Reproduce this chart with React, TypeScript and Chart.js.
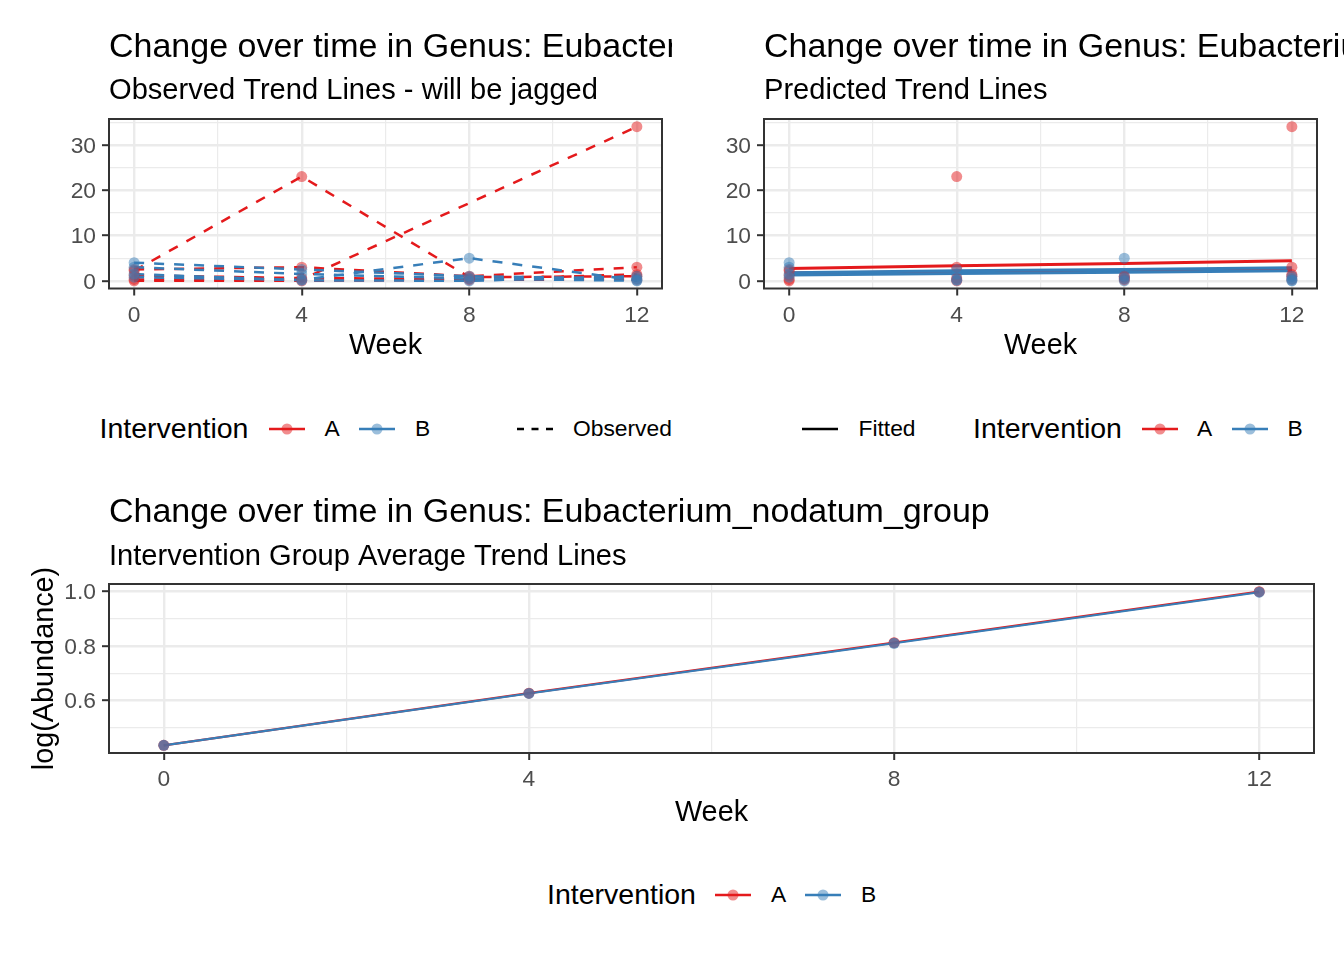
import React, { useEffect, useRef } from 'react';
import { Chart, registerables } from 'chart.js';

Chart.register(...registerables);

const FONT = "'Liberation Sans', Arial, Helvetica, sans-serif";
const RED = 'rgb(228,26,28)';
const RED_PT = 'rgba(228,26,28,0.5)';
const BLUE = 'rgb(55,126,184)';
const BLUE_PT = 'rgba(55,126,184,0.5)';
const RED_PT_MEAN = 'rgba(228,26,28,0.75)';
const BLUE_PT_MEAN = 'rgba(55,126,184,0.7)';

// ---- axes / ticks ----
const weeks = [0, 4, 8, 12];
const xTickLabels = [0, 4, 8, 12];
const xGridValues = [0, 2, 4, 6, 8, 10, 12];
const yTickLabelsTop = [0, 10, 20, 30];
const yGridTop = [0, 5, 10, 15, 20, 25, 30, 35];
const yTickLabelsBottom = [0.6, 0.8, 1.0];
const yGridBottom = [0.5, 0.6, 0.7, 0.8, 0.9, 1.0];

// ---- observed abundance per subject (weeks 0, 4, 8, 12) ----
const subjA1 = [2.2, 23.0, 0.8, 1.0];
const subjA2 = [0.3, 0.3, null, 34.0];
const subjA3 = [2.5, 3.0, 1.0, 3.0];
const subjA4 = [1.2, 0.6, 0.4, 1.4];
const subjA5 = [0.0, 0.0, 0.2, 0.3];
const subjB1 = [0.8, 0.2, 5.0, 0.1];
const subjB2 = [4.0, 2.5, 1.0, 0.5];
const subjB3 = [3.0, 1.5, 0.5, 0.0];
const subjB4 = [1.5, 0.1, 0.0, 1.0];

// ---- fitted trend lines ----
const fitA1 = [2.7, 3.3, 3.8, 4.4];
const fitA2 = [1.7, 2.0, 2.2, 2.5];
const fitB1 = [1.8, 2.2, 2.5, 2.9];
const fitB2 = [1.3, 1.6, 1.9, 2.2];

// ---- group average trend (log abundance) ----
const meanA = [0.437, 0.627, 0.811, 0.997];
const meanB = [0.437, 0.626, 0.809, 0.995];

const groupA = [subjA1, subjA2, subjA3, subjA4, subjA5];
const groupB = [subjB1, subjB2, subjB3, subjB4];

const TITLE = 'Change over time in Genus: Eubacterium_nodatum_group';

const toXY = (vals: (number | null)[]) => weeks.map((w, i) => ({ x: w, y: vals[i] }));

const ggPanel = {
  id: 'ggPanel',
  afterDraw(chart: any, _args: any, opts: any) {
    const { ctx, chartArea: a } = chart;
    ctx.save();
    ctx.strokeStyle = '#333333';
    ctx.lineWidth = 2;
    ctx.strokeRect(a.left, a.top, a.right - a.left, a.bottom - a.top);
    ctx.fillStyle = '#000000';
    ctx.textAlign = 'left';
    ctx.textBaseline = 'alphabetic';
    ctx.font = `34px ${FONT}`;
    ctx.fillText(opts.title, a.left, opts.titleY);
    ctx.font = `29.1px ${FONT}`;
    ctx.fillText(opts.subtitle, a.left, opts.subtitleY);
    ctx.restore();
  },
};

interface Geo {
  W: number; H: number; left: number; right: number; top: number; bottom: number;
  weekY: number; titleY: number; subtitleY: number;
}

function buildOptions(g: Geo, yMin: number, yMax: number, yGrid: number[], yMajor: number[],
  yFmt: (v: number) => string, yTitle: string | null, title: string, subtitle: string) {
  const tickFont = { family: FONT, size: 22.8, lineHeight: 1 };
  const titleFont = { family: FONT, size: 28.8, lineHeight: 1 };
  const grid = (major: number[]) => ({
    color: '#EBEBEB',
    lineWidth: (c: any) => (major.includes(c.tick && c.tick.value) ? 2.4 : 1.2),
    tickColor: (c: any) => (major.includes(c.tick && c.tick.value) ? '#333333' : 'rgba(0,0,0,0)'),
    tickLength: 7,
    tickWidth: 2,
    drawTicks: true,
  });
  return {
    animation: false,
    responsive: false,
    events: [],
    layout: { padding: { left: 0, top: g.top, right: g.W - g.right, bottom: 0 } },
    scales: {
      x: {
        type: 'linear', min: -0.6, max: 12.6, bounds: 'data',
        afterBuildTicks: (s: any) => { s.ticks = xGridValues.map((v) => ({ value: v })); },
        afterFit: (s: any) => { s.height = g.H - g.bottom; },
        grid: grid(xTickLabels),
        border: { display: false },
        ticks: {
          autoSkip: false, maxRotation: 0, minRotation: 0, color: '#4D4D4D', font: tickFont, padding: 8.6,
          callback: (v: number) => (xTickLabels.includes(v) ? String(v) : ''),
        },
        title: {
          display: true, text: 'Week', color: '#000000', font: titleFont,
          padding: { top: 0, bottom: g.H - g.weekY - 14.4 },
        },
      },
      y: {
        type: 'linear', min: yMin, max: yMax, bounds: 'data',
        afterBuildTicks: (s: any) => { s.ticks = yGrid.map((v) => ({ value: v })); },
        afterFit: (s: any) => { s.width = g.left; },
        grid: grid(yMajor),
        border: { display: false },
        ticks: {
          autoSkip: false, color: '#4D4D4D', font: tickFont, padding: 6, labelOffset: 1.5,
          callback: (v: number) => (yMajor.includes(v) ? yFmt(v) : ''),
        },
        title: yTitle
          ? { display: true, text: yTitle, color: '#000000', font: titleFont, padding: { top: 30.6, bottom: 0 } }
          : { display: false },
      },
    },
    plugins: {
      legend: { display: false },
      tooltip: { enabled: false },
      ggPanel: { title, subtitle, titleY: g.titleY, subtitleY: g.subtitleY },
    },
  };
}

const pointSet = (vals: (number | null)[], color: string) => ({
  data: toXY(vals), showLine: false, pointRadius: 5.5, pointBackgroundColor: color,
  pointBorderWidth: 0, borderColor: color, backgroundColor: color,
});

const geoTL: Geo = { W: 672, H: 380, left: 109, right: 662, top: 119, bottom: 288.5, weekY: 346, titleY: 56.5, subtitleY: 99 };
const geoTR: Geo = { W: 672, H: 380, left: 92, right: 645, top: 119, bottom: 288.5, weekY: 346, titleY: 56.5, subtitleY: 99 };
const geoB: Geo = { W: 1344, H: 380, left: 109, right: 1314, top: 114, bottom: 283, weekY: 343, titleY: 51.5, subtitleY: 95 };

function configTL() {
  const lines = (grp: (number | null)[][], color: string) => grp.map((vals) => ({
    data: toXY(vals), borderColor: color, borderWidth: 2.5, borderDash: [10, 10],
    pointRadius: 0, spanGaps: true, tension: 0, fill: false,
  }));
  const datasets = [
    ...groupB.map((v) => pointSet(v, BLUE_PT)),
    ...groupA.map((v) => pointSet(v, RED_PT)),
    ...lines(groupB, BLUE),
    ...lines(groupA, RED),
  ];
  return {
    type: 'line', data: { datasets },
    options: buildOptions(geoTL, -1.7, 35.7, yGridTop, yTickLabelsTop, (v) => String(v), null, TITLE, 'Observed Trend Lines - will be jagged'),
    plugins: [ggPanel],
  } as any;
}

function configTR() {
  const fit = (vals: number[], color: string) => ({
    data: toXY(vals), borderColor: color, borderWidth: 3, pointRadius: 0, tension: 0, fill: false,
  });
  const datasets = [
    ...groupB.map((v) => pointSet(v, BLUE_PT)),
    ...groupA.map((v) => pointSet(v, RED_PT)),
    fit(fitB1, BLUE), fit(fitB2, BLUE),
    fit(fitA1, RED), fit(fitA2, RED),
  ];
  return {
    type: 'line', data: { datasets },
    options: buildOptions(geoTR, -1.7, 35.7, yGridTop, yTickLabelsTop, (v) => String(v), null, TITLE, 'Predicted Trend Lines'),
    plugins: [ggPanel],
  } as any;
}

function configB() {
  const line = (vals: number[], color: string) => ({
    data: toXY(vals), borderColor: color, borderWidth: 2.2, pointRadius: 0, tension: 0, fill: false,
  });
  const datasets = [
    pointSet(meanB, BLUE_PT_MEAN),
    pointSet(meanA, RED_PT_MEAN),
    line(meanB, BLUE),
    line(meanA, RED),
  ];
  return {
    type: 'line', data: { datasets },
    options: buildOptions(geoB, 0.409, 1.025, yGridBottom, yTickLabelsBottom, (v) => v.toFixed(1), 'log(Abundance)', TITLE, 'Intervention Group Average Trend Lines'),
    plugins: [ggPanel],
  } as any;
}

function ChartBox({ x, y, w, h, make }: { x: number; y: number; w: number; h: number; make: () => any }) {
  const ref = useRef<HTMLCanvasElement>(null);
  useEffect(() => {
    const chart = new Chart(ref.current as HTMLCanvasElement, make());
    return () => chart.destroy();
  }, []);
  return (
    <div style={{ position: 'absolute', left: x, top: y, width: w, height: h }}>
      <canvas ref={ref} width={w} height={h} style={{ display: 'block', width: w, height: h }} />
    </div>
  );
}

function LText({ x, y, text, size }: { x: number; y: number; text: string; size: number }) {
  return (
    <div style={{ position: 'absolute', left: x, top: y - size / 2, fontSize: size, lineHeight: `${size}px`, whiteSpace: 'nowrap', color: '#000', fontFamily: FONT }}>
      {text}
    </div>
  );
}

function LKey({ x, y, color, pt, dash }: { x: number; y: number; color: string; pt?: string; dash?: string }) {
  return (
    <svg style={{ position: 'absolute', left: x, top: y - 8 }} width={36} height={16}>
      <line x1={0} y1={8} x2={36} y2={8} stroke={color} strokeWidth={2.5} strokeDasharray={dash} />
      {pt ? <circle cx={18} cy={8} r={5.5} fill={pt} /> : null}
    </svg>
  );
}

export default function App() {
  const ly = 428.5;
  const by = 894.5;
  return (
    <div style={{ position: 'absolute', left: 0, top: 0, width: 1344, height: 960, background: '#fff', overflow: 'hidden' }}>
      <ChartBox x={0} y={0} w={672} h={380} make={configTL} />
      <ChartBox x={672} y={0} w={672} h={380} make={configTR} />
      <ChartBox x={0} y={470} w={1344} h={380} make={configB} />

      <LText x={99.5} y={ly} text="Intervention" size={28.5} />
      <LKey x={269} y={ly} color={RED} pt={RED_PT} />
      <LText x={324.5} y={ly} text="A" size={22.8} />
      <LKey x={359} y={ly} color={BLUE} pt={BLUE_PT} />
      <LText x={415} y={ly} text="B" size={22.8} />
      <LKey x={517} y={ly} color="#000" dash="7 7.5" />
      <LText x={573} y={ly} text="Observed" size={22.8} />

      <LKey x={802} y={ly} color="#000" />
      <LText x={858.5} y={ly} text="Fitted" size={22.8} />
      <LText x={973} y={ly} text="Intervention" size={28.5} />
      <LKey x={1141.5} y={ly} color={RED} pt={RED_PT} />
      <LText x={1197} y={ly} text="A" size={22.8} />
      <LKey x={1231.5} y={ly} color={BLUE} pt={BLUE_PT} />
      <LText x={1287.5} y={ly} text="B" size={22.8} />

      <LText x={547} y={by} text="Intervention" size={28.5} />
      <LKey x={715} y={by} color={RED} pt={RED_PT} />
      <LText x={771} y={by} text="A" size={22.8} />
      <LKey x={805} y={by} color={BLUE} pt={BLUE_PT} />
      <LText x={861} y={by} text="B" size={22.8} />
    </div>
  );
}
